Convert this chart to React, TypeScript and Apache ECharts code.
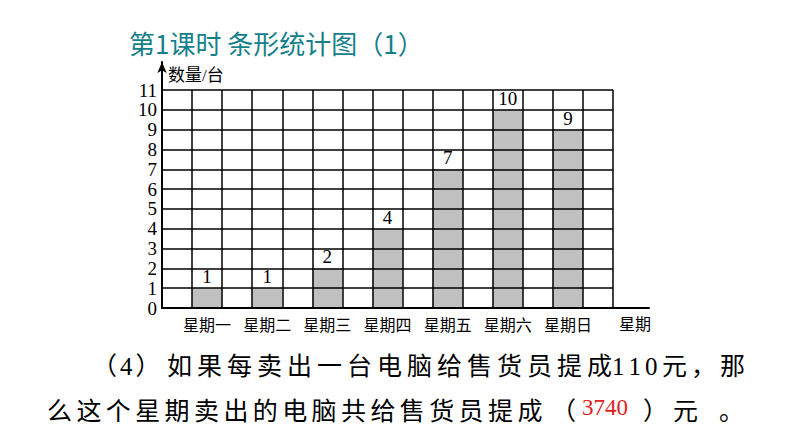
import { useEffect, useRef } from 'react';
import * as echarts from 'echarts';

const days = ['星期一', '星期二', '星期三', '星期四', '星期五', '星期六', '星期日'];
const sales = [1, 1, 2, 4, 7, 10, 9];
const yMax = 11;

const title = '第1课时 条形统计图（1）';
const yName = '数量/台';
const xName = '星期';
const answer = '3740';

const FONT = "'Liberation Serif', 'Noto Sans CJK SC', serif";

// each day takes two grid columns: an empty one, then the bar
const slotLabels: string[] = [''];
const slotValues: (number | string)[] = ['-'];
days.forEach((d, i) => {
  slotLabels.push(d, '');
  slotValues.push(sales[i], '-');
});

// no letterSpacing in zrender, so every character gets its own padded token
const spacedText = (s: string, x: number, y: number, gap: number) => ({
  type: 'text',
  x,
  y,
  style: {
    text: Array.from(s)
      .map((c) => `{c|${c}}`)
      .join(''),
    verticalAlign: 'middle',
    rich: { c: { fontSize: 25, fontFamily: FONT, fill: '#000', padding: [0, gap, 0, 0] } },
  },
});

export default function App() {
  const elRef = useRef<HTMLDivElement | null>(null);

  useEffect(() => {
    if (!elRef.current) return;
    const chart = echarts.init(elRef.current, undefined, { renderer: 'svg' });
    const line = { color: '#000', width: 1.5 };
    chart.setOption({
      animation: false,
      backgroundColor: '#fff',
      grid: [
        { left: 162, right: 181, top: 90, bottom: 139 },
        { left: 162, right: 145, top: 62, bottom: 139 },
      ],
      xAxis: [
        {
          type: 'category',
          gridIndex: 0,
          data: slotLabels,
          boundaryGap: true,
          z: 3,
          axisLine: { show: false },
          axisTick: { show: false },
          axisLabel: { interval: 0, color: '#000', fontSize: 16, fontFamily: FONT, margin: 9 },
          splitLine: { show: true, interval: 0, lineStyle: line },
        },
        {
          type: 'value',
          gridIndex: 1,
          min: 0,
          max: 1,
          z: 4,
          axisLine: { show: true, onZero: false, lineStyle: { color: '#000', width: 2 } },
          axisTick: { show: false },
          axisLabel: { show: false },
          splitLine: { show: false },
        },
      ],
      yAxis: [
        {
          type: 'value',
          gridIndex: 0,
          min: 0,
          max: yMax,
          interval: 1,
          z: 3,
          axisLine: { show: false },
          axisTick: { show: false },
          axisLabel: { color: '#000', fontSize: 19, fontFamily: FONT, margin: 5 },
          splitLine: { show: true, lineStyle: line },
        },
        {
          type: 'value',
          gridIndex: 1,
          min: 0,
          max: 1,
          z: 4,
          axisLine: {
            show: true,
            onZero: false,
            symbol: ['none', 'arrow'],
            symbolSize: [7, 11],
            lineStyle: { color: '#000', width: 2 },
          },
          axisTick: { show: false },
          axisLabel: { show: false },
          splitLine: { show: false },
        },
      ],
      series: [
        {
          type: 'bar',
          xAxisIndex: 0,
          yAxisIndex: 0,
          data: slotValues,
          barWidth: '100%',
          z: 1,
          itemStyle: { color: '#c0c0c0' },
          label: {
            show: true,
            position: 'top',
            distance: 2,
            color: '#000',
            fontSize: 19,
            fontFamily: FONT,
          },
        },
      ],
      graphic: [
        {
          type: 'text',
          x: 129,
          y: 42,
          style: {
            text: title,
            fill: '#16808a',
            fontSize: 26,
            fontFamily: "'Noto Sans CJK SC', sans-serif",
            verticalAlign: 'middle',
          },
        },
        {
          type: 'text',
          x: 168,
          y: 75,
          style: { text: yName, fill: '#000', fontSize: 17, fontFamily: FONT, verticalAlign: 'middle' },
        },
        {
          type: 'text',
          x: 619,
          y: 324,
          style: { text: xName, fill: '#000', fontSize: 16, fontFamily: FONT, verticalAlign: 'middle' },
        },
        // question (4), line 1
        spacedText('（4）', 92, 366, 3),
        spacedText('如果每卖出一台电脑给售货员提成', 167, 366, 5),
        spacedText('110', 612, 366, 4),
        spacedText('元，那', 662, 366, 4),
        // line 2 with the red answer
        spacedText('么这个星期卖出的电脑共给售货员提成', 47, 411, 4.4),
        spacedText('（', 551, 411, 0),
        {
          type: 'text',
          x: 582,
          y: 396,
          style: { text: answer, fill: '#e0201c', fontSize: 23, fontFamily: FONT, verticalAlign: 'top' },
        },
        spacedText('）元', 643, 411, 5),
        spacedText('。', 719, 411, 0),
      ],
    });
    return () => chart.dispose();
  }, []);

  return (
    <div
      ref={elRef}
      style={{ position: 'absolute', left: 0, top: 0, width: 794, height: 447 }}
    />
  );
}
